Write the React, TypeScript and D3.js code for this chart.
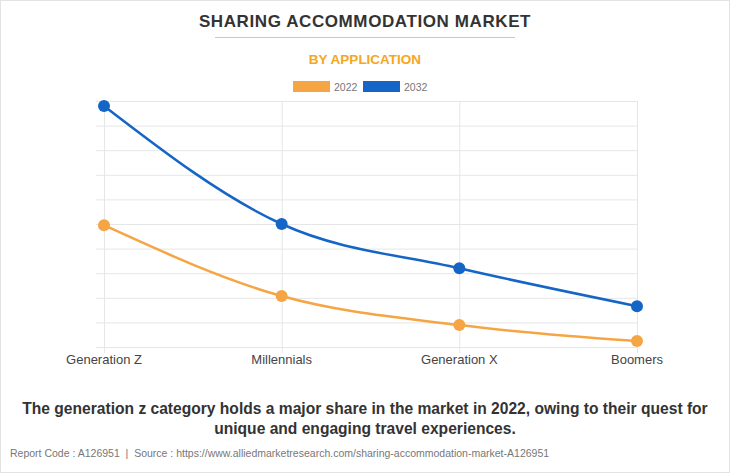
import React from "react";
import * as d3 from "d3";

const categories = ["Generation Z", "Millennials", "Generation X", "Boomers"];
const series2022 = [4.95, 2.07, 0.89, 0.24];
const series2032 = [9.8, 5.0, 3.2, 1.66];
const seriesNames = ["2022", "2032"];
const yTicks = d3.range(0, 11);

const W = 730;
const H = 473;
const left = 104;
const right = 637;
const top = 101;
const bottom = 347;
const orange = "#F5A544";
const blue = "#1565C6";

export default function App() {
  const x = d3.scalePoint<string>().domain(categories).range([left, right]);
  const y = d3.scaleLinear().domain([0, 10]).range([bottom, top]);
  const line = d3
    .line<number>()
    .x((_, i) => x(categories[i]) as number)
    .y((d) => y(d))
    .curve(d3.curveMonotoneX);
  const font = "'Liberation Sans', Arial, sans-serif";
  const series = [
    { name: seriesNames[0], data: series2022, color: orange },
    { name: seriesNames[1], data: series2032, color: blue },
  ];
  return (
    <svg
      width={W}
      height={H}
      style={{ position: "absolute", left: 0, top: 0, fontFamily: font }}
    >
      <rect x={0.5} y={0.5} width={W - 1} height={H - 1} fill="#fff" stroke="#e3e3e3" />
      <text x={365} y={27} textAnchor="middle" fontSize={17} fontWeight="bold" fill="#333" letterSpacing={0.6}>
        SHARING ACCOMMODATION MARKET
      </text>
      <line x1={215} x2={515} y1={37.5} y2={37.5} stroke="#c8c8c8" />
      <text x={365} y={64} textAnchor="middle" fontSize={13.5} fontWeight="bold" fill="#F5A623">
        BY APPLICATION
      </text>
      {series.map((s, i) => (
        <g key={s.name} transform={`translate(${293 + i * 70},81)`}>
          <rect width={37} height={11} fill={s.color} />
          <text x={41} y={9.5} fontSize={10.5} fill="#777">
            {s.name}
          </text>
        </g>
      ))}
      {yTicks.map((t) => (
        <line key={t} x1={96} x2={right} y1={y(t) + 0.5} y2={y(t) + 0.5} stroke="#e6e6e6" />
      ))}
      {categories.map((c) => (
        <line key={c} x1={(x(c) as number) + 0.5} x2={(x(c) as number) + 0.5} y1={top} y2={bottom + 6} stroke="#e6e6e6" />
      ))}
      {categories.map((c) => (
        <text key={c} x={x(c)} y={364} textAnchor="middle" fontSize={13} fill="#444">
          {c}
        </text>
      ))}
      {series.map((s) => (
        <g key={s.name}>
          <path d={line(s.data) || ""} fill="none" stroke={s.color} strokeWidth={2.5} />
          {s.data.map((v, i) => (
            <circle key={i} cx={x(categories[i])} cy={y(v)} r={6} fill={s.color} />
          ))}
        </g>
      ))}
      <text x={365} y={414} textAnchor="middle" fontSize={15.6} fontWeight="bold" fill="#333">
        The generation z category holds a major share in the market in 2022, owing to their quest for
      </text>
      <text x={365} y={434} textAnchor="middle" fontSize={15.6} fontWeight="bold" fill="#333">
        unique and engaging travel experiences.
      </text>
      <text x={10} y={457} fontSize={10.5} fill="#777" style={{ whiteSpace: "pre" }}>
        {"Report Code : A126951  |  Source : https://www.alliedmarketresearch.com/sharing-accommodation-market-A126951"}
      </text>
    </svg>
  );
}
